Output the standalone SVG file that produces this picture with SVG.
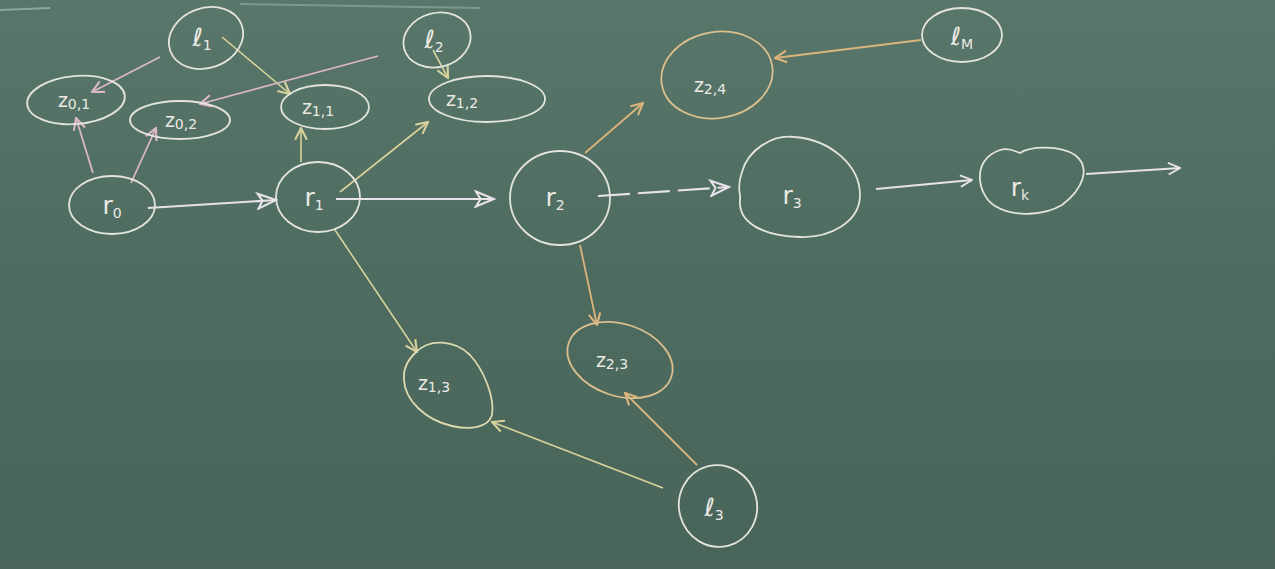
<svg xmlns="http://www.w3.org/2000/svg" width="1275" height="569" viewBox="0 0 1275 569">
<defs>
<linearGradient id="bg" x1="0" y1="0" x2="0" y2="1">
<stop offset="0" stop-color="#587669"/>
<stop offset="0.5" stop-color="#4e6b5f"/>
<stop offset="1" stop-color="#49655a"/>
</linearGradient>
<marker id="aw" viewBox="0 0 12 12" refX="11" refY="6" markerWidth="14" markerHeight="14" markerUnits="userSpaceOnUse" orient="auto">
<polyline points="1,1 11,6 1,11" fill="none" stroke="#e8e2ea" stroke-width="1.6"/>
</marker>
<marker id="ad" viewBox="0 0 14 12" refX="13" refY="6" markerWidth="22" markerHeight="18" markerUnits="userSpaceOnUse" orient="auto">
<polygon points="1,1 13,6 1,11 4,6" fill="none" stroke="#e8e2ea" stroke-width="1.4"/>
</marker>
<marker id="ap" viewBox="0 0 12 12" refX="11" refY="6" markerWidth="14" markerHeight="14" markerUnits="userSpaceOnUse" orient="auto">
<polyline points="1,1 11,6 1,11" fill="none" stroke="#dcb8c6" stroke-width="1.8"/>
</marker>
<marker id="ay" viewBox="0 0 12 12" refX="11" refY="6" markerWidth="14" markerHeight="14" markerUnits="userSpaceOnUse" orient="auto">
<polyline points="1,1 11,6 1,11" fill="none" stroke="#d8d29c" stroke-width="1.8"/>
</marker>
<marker id="ao" viewBox="0 0 12 12" refX="11" refY="6" markerWidth="14" markerHeight="14" markerUnits="userSpaceOnUse" orient="auto">
<polyline points="1,1 11,6 1,11" fill="none" stroke="#dcb47c" stroke-width="1.8"/>
</marker>
</defs>
<style>
.n{fill:none;stroke:#e4e4de;stroke-width:1.8}
.no{fill:none;stroke:#dcc08e;stroke-width:1.8}
.ny{fill:none;stroke:#dcdab0;stroke-width:1.8}
.t{font-family:"DejaVu Sans",sans-serif;fill:#eceae6;text-anchor:middle}
.r{font-size:25px}
.z{font-size:19px}
.s{font-size:14px}
.w{fill:none;stroke:#e8e2ea;stroke-width:2.2}
.p{fill:none;stroke:#dcb8c6;stroke-width:1.8}
.y{fill:none;stroke:#d8d29c;stroke-width:1.6}
.o{fill:none;stroke:#dcb47c;stroke-width:1.8}
</style>
<rect width="1275" height="569" fill="url(#bg)"/>
<line x1="0" y1="10" x2="50" y2="8" stroke="#8fa69c" stroke-width="2"/>
<line x1="240" y1="4" x2="480" y2="8" stroke="#7f988d" stroke-width="2"/>

<g id="connectors">
<line class="p" x1="160" y1="57" x2="92" y2="92" marker-end="url(#ap)"/>
<line class="y" x1="222" y1="37" x2="290" y2="94" marker-end="url(#ay)"/>
<line class="p" x1="378" y1="56" x2="200" y2="104" marker-end="url(#ap)"/>
<line class="y" x1="433" y1="50" x2="448" y2="78" marker-end="url(#ay)"/>
<line class="p" x1="93" y1="173" x2="76" y2="118" marker-end="url(#ap)"/>
<line class="p" x1="131" y1="183" x2="156" y2="128" marker-end="url(#ap)"/>
<line class="y" x1="301" y1="162" x2="301" y2="128" marker-end="url(#ay)"/>
<line class="y" x1="340" y1="192" x2="428" y2="122" marker-end="url(#ay)"/>
<line class="w" x1="148" y1="208" x2="276" y2="200" marker-end="url(#ad)"/>
<line class="w" x1="336" y1="199" x2="494" y2="199" marker-end="url(#ad)"/>
<line class="w" x1="598" y1="196" x2="729" y2="187" stroke-dasharray="32,8" marker-end="url(#ad)"/>
<line class="w" x1="876" y1="189" x2="972" y2="180" marker-end="url(#aw)"/>
<line class="w" x1="1086" y1="174" x2="1180" y2="168" marker-end="url(#aw)"/>
<line class="o" x1="585" y1="153" x2="643" y2="103" marker-end="url(#ao)"/>
<line class="o" x1="921" y1="40" x2="775" y2="58" marker-end="url(#ao)"/>
<line class="y" x1="335" y1="230" x2="417" y2="352" marker-end="url(#ay)"/>
<line class="o" x1="580" y1="245" x2="597" y2="325" marker-end="url(#ao)"/>
<line class="y" x1="663" y1="488" x2="492" y2="422" marker-end="url(#ay)"/>
<line class="o" x1="697" y1="465" x2="625" y2="393" marker-end="url(#ao)"/>
</g>

<g id="l1"><ellipse class="n" cx="206" cy="38" rx="38" ry="30" transform="rotate(-20 206 38)"/><text class="t r" x="202" y="46">ℓ<tspan class="s" dy="4">1</tspan></text></g>
<g id="l2"><ellipse class="n" cx="437" cy="40" rx="34" ry="27" transform="rotate(-15 437 40)"/><text class="t r" x="434" y="48">ℓ<tspan class="s" dy="4">2</tspan></text></g>
<g id="z01"><ellipse class="n" cx="76" cy="100" rx="49" ry="24" transform="rotate(-5 76 100)"/><text class="t z" x="74" y="107">z<tspan class="s" dy="2">0,1</tspan></text></g>
<g id="z02"><ellipse class="n" cx="180" cy="120" rx="50" ry="19"/><text class="t z" x="181" y="127">z<tspan class="s" dy="2">0,2</tspan></text></g>
<g id="z11"><ellipse class="n" cx="325" cy="107" rx="44" ry="22"/><text class="t z" x="318" y="114">z<tspan class="s" dy="2">1,1</tspan></text></g>
<g id="z12"><ellipse class="n" cx="487" cy="99" rx="58" ry="23"/><text class="t z" x="462" y="106">z<tspan class="s" dy="2">1,2</tspan></text></g>
<g id="r0"><ellipse class="n" cx="112" cy="205" rx="43" ry="29"/><text class="t r" x="112" y="214">r<tspan class="s" dy="4">0</tspan></text></g>
<g id="r1"><ellipse class="n" cx="318" cy="197" rx="42" ry="35"/><text class="t r" x="314" y="206">r<tspan class="s" dy="4">1</tspan></text></g>
<g id="r2"><ellipse class="n" cx="560" cy="198" rx="50" ry="47"/><text class="t r" x="555" y="206">r<tspan class="s" dy="4">2</tspan></text></g>
<g id="r3"><path class="n" d="M742,172 C748,150 772,134 795,137 C830,140 860,165 860,195 C860,222 830,238 800,237 C765,236 738,224 740,200 C741,192 736,188 742,172 Z"/><text class="t r" x="792" y="204">r<tspan class="s" dy="4">3</tspan></text></g>
<g id="rk"><path class="n" d="M1000,150 C1010,147 1016,152 1020,153 C1030,146 1060,145 1075,155 C1092,168 1082,190 1062,205 C1045,215 1015,218 995,206 C978,196 970,160 1000,150 Z"/><text class="t r" x="1020" y="196">r<tspan class="s" dy="4">k</tspan></text></g>
<g id="z24"><ellipse class="no" cx="717" cy="75" rx="56" ry="43" transform="rotate(-10 717 75)"/><text class="t z" x="710" y="92">z<tspan class="s" dy="2">2,4</tspan></text></g>
<g id="lM"><ellipse class="n" cx="962" cy="35" rx="40" ry="27"/><text class="t r" x="962" y="45">ℓ<tspan class="s" dy="4">M</tspan></text></g>
<g id="z13"><path class="ny" d="M416,352 C430,338 455,340 470,355 C484,370 495,398 492,415 C488,428 470,430 452,426 C425,420 405,400 404,380 C403,368 408,360 416,352 Z"/><text class="t z" x="434" y="390">z<tspan class="s" dy="2">1,3</tspan></text></g>
<g id="z23"><ellipse class="no" cx="620" cy="360" rx="54" ry="36" transform="rotate(18 620 360)"/><text class="t z" x="612" y="367">z<tspan class="s" dy="2">2,3</tspan></text></g>
<g id="l3"><ellipse class="n" cx="718" cy="506" rx="39" ry="41" transform="rotate(-15 718 506)"/><text class="t r" x="714" y="516">ℓ<tspan class="s" dy="4">3</tspan></text></g>
</svg>
